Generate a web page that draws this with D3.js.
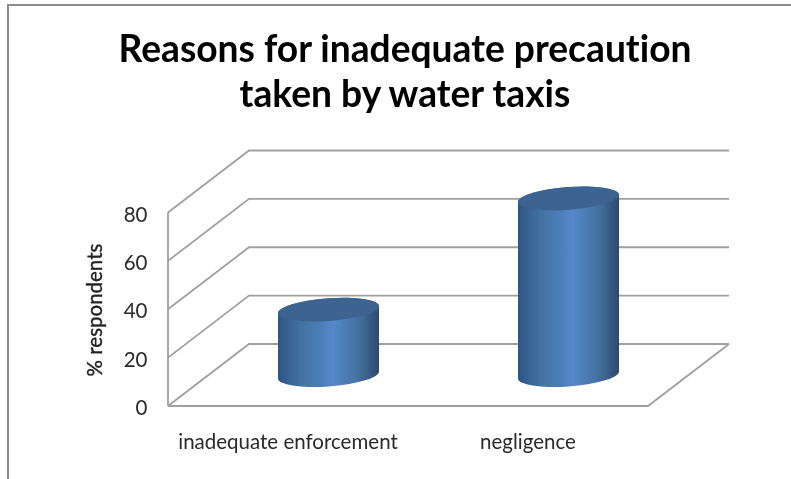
<!DOCTYPE html>
<html lang="en">
<head>
<meta charset="utf-8">
<title>Reasons for inadequate precaution</title>
<style>
  html, body {margin: 0; padding: 0; background: #fff;}
  svg {display: block;}
  text {font-family: Lato, "Open Sans", sans-serif; fill: #222; font-variant-ligatures: none;}
  .title {font-size: 37.2px; font-weight: 700; fill: #000; text-anchor: middle;}
  .grid {fill: none; stroke: #a0a0a0; stroke-width: 1.8;}
  .axis path, .axis line {display: none;}
  .axis text {font-family: Lato, "Open Sans", sans-serif; font-size: 20.5px; fill: #2a2a2a;}
</style>
<script src="https://d3js.org/d3.v7.min.js"></script>
</head>
<body>
<script>
// chart data
var categories = ["inadequate enforcement", "negligence"];
var values = [27, 73];
var yTicks = [0, 20, 40, 60, 80];
var titleLines = ["Reasons for inadequate precaution", "taken by water taxis"];

var width = 791, height = 479;

// front plane of the fake 3d box, and how far the back wall is shifted
var depthX = 81, depthY = -62;
var x = d3.scaleBand().domain(categories).range([168, 648]);
var y = d3.scaleLinear().domain([0, 80]).range([406, 212.5]);
var backRight = 729;

var svg = d3.select("body").append("svg")
  .attr("width", width)
  .attr("height", height);

var defs = svg.append("defs");
var grad = defs.append("linearGradient").attr("id", "side");
[[0, "#2f5583"], [0.22, "#41719f"], [0.55, "#5587c9"], [0.8, "#44709f"], [1, "#2c4a70"]].forEach(function(s) {
  grad.append("stop").attr("offset", s[0]).attr("stop-color", s[1]);
});
defs.append("filter").attr("id", "soft")
  .append("feGaussianBlur").attr("stdDeviation", 0.45);

var root = svg.append("g").attr("filter", "url(#soft)");

// outer frame, only top and left show
root.append("path")
  .attr("d", "M8,479V5H791")
  .attr("fill", "none")
  .attr("stroke", "#8c8c8c")
  .attr("stroke-width", 2);

root.selectAll(".title").data(titleLines).enter().append("text")
  .attr("class", "title")
  .attr("x", 405)
  .attr("y", function(d, i) { return 62 + i * 44.5; })
  .text(function(d) { return d; });

// walls and gridlines
var x0 = x.range()[0], x1 = x.range()[1];
root.append("path").attr("class", "grid")
  .attr("d", "M" + x0 + "," + y(0) + "V" + y(80));
root.selectAll(".wall").data(yTicks).enter().append("path")
  .attr("class", "grid wall")
  .attr("d", function(d) {
    return "M" + x0 + "," + y(d) + "L" + (x0 + depthX) + "," + (y(d) + depthY) + "H" + backRight;
  });
// floor
root.append("path").attr("class", "grid")
  .attr("d", "M" + x0 + "," + y(0) + "H" + x1 + "L" + backRight + "," + (y(0) + depthY));

// cylinders sit half way back on the floor
var rx = 50.6, ry = 11.4, tilt = -4.2, hw = 50.5, hs = 3.5;
function cx(d) { return x(d) + x.bandwidth() / 2 + depthX / 2; }
function baseY() { return y(0) + depthY / 2; }
function topY(d) { return y(d) + depthY / 2; }
var arc = "A" + rx + "," + ry + " " + tilt + " 0 0 ";

var bars = root.selectAll(".bar")
  .data(categories.map(function(c, i) { return {c: c, v: values[i]}; }))
  .enter().append("g").attr("class", "bar");

bars.append("path")
  .attr("fill", "url(#side)")
  .attr("d", function(d) {
    var c = cx(d.c), t = topY(d.v), b = baseY();
    return "M" + (c - hw) + "," + (t + hs) +
      "L" + (c - hw) + "," + (b + hs) +
      arc + (c + hw) + "," + (b - hs) +
      "L" + (c + hw) + "," + (t - hs) +
      arc + (c - hw) + "," + (t + hs) + "Z";
  });
bars.append("ellipse")
  .attr("fill", "#3d6491")
  .attr("rx", rx)
  .attr("ry", ry)
  .attr("transform", function(d) {
    return "translate(" + cx(d.c) + "," + topY(d.v) + ") rotate(" + tilt + ")";
  });

// axes
root.append("g").attr("class", "axis")
  .attr("transform", "translate(155,2)")
  .call(d3.axisLeft(y).tickValues(yTicks).tickSize(0).tickPadding(7.5));
root.append("g").attr("class", "axis")
  .attr("transform", "translate(0,430)")
  .call(d3.axisBottom(x).tickSize(0).tickPadding(4));

root.append("text")
  .attr("transform", "translate(102,310) rotate(-90)")
  .attr("text-anchor", "middle")
  .attr("font-size", 20.5)
  .attr("stroke", "#222")
  .attr("stroke-width", 0.35)
  .text("% respondents");
</script>
</body>
</html>
